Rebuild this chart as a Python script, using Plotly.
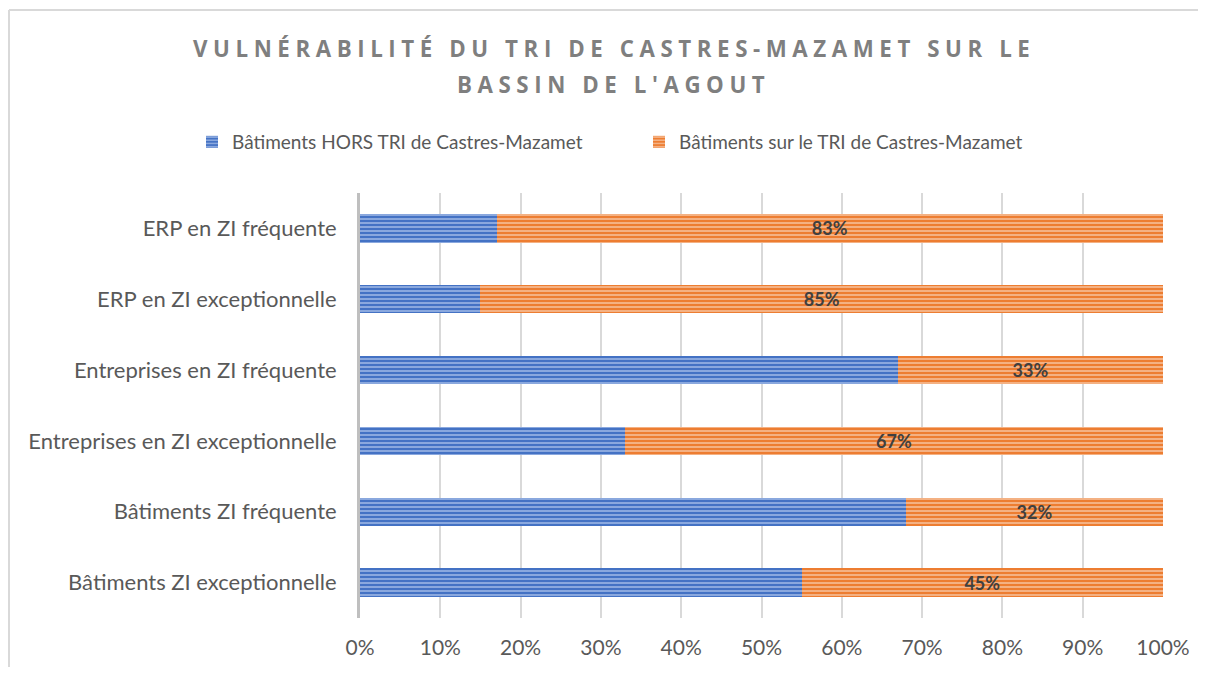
import plotly.graph_objects as go

categories = [
    "Bâtiments ZI exceptionnelle",
    "Bâtiments ZI fréquente",
    "Entreprises en ZI exceptionnelle",
    "Entreprises en ZI fréquente",
    "ERP en ZI exceptionnelle",
    "ERP en ZI fréquente",
]
hors_tri = [55, 68, 33, 67, 15, 17]
sur_tri = [45, 32, 67, 33, 85, 83]
series_names = ["Bâtiments HORS TRI de Castres-Mazamet", "Bâtiments sur le TRI de Castres-Mazamet"]
x_ticks = [0, 10, 20, 30, 40, 50, 60, 70, 80, 90, 100]
x_ticklabels = [f"{v}%" for v in x_ticks]

title_lines = ["VULNÉRABILITÉ DU TRI DE CASTRES-MAZAMET SUR LE", "BASSIN DE L'AGOUT"]


def spaced(s):
    # emulate the wide letter spacing of the original title
    return "\u2005".join(list(s))


# page body has an 8px margin; figure sized to fit inside the window
W, H = 1190, 659
L, R, T, B = 352, 35, 185, 49
pw, ph = W - L - R, H - T - B


def px_x(x):
    return (x - L) / pw


def px_y(y):
    return (H - B - y) / ph


fig = go.Figure()
fig.add_trace(go.Bar(
    y=categories, x=hors_tri, orientation="h", name=series_names[0],
    marker=dict(color="#4472C4", line=dict(width=0),
                pattern=dict(shape="-", size=4, solidity=0.35, fgcolor="#A9C0EA",
                             bgcolor="#4472C4", fillmode="replace")),
))
fig.add_trace(go.Bar(
    y=categories, x=sur_tri, orientation="h", name=series_names[1],
    marker=dict(color="#ED7D31", line=dict(width=0),
                pattern=dict(shape="-", size=4, solidity=0.35, fgcolor="#F8C8A6",
                             bgcolor="#ED7D31", fillmode="replace")),
    text=[f"{v}%" for v in sur_tri], texttemplate="<b>%{text}</b>",
    textposition="inside", insidetextanchor="middle",
    textfont=dict(family="Lato", size=18, color="#404040"),
))

annotations = []
for line, ypx in zip(title_lines, [40, 77]):
    annotations.append(dict(
        text="<b>" + spaced(line) + "</b>", xref="paper", yref="paper",
        x=px_x(603), y=px_y(ypx), xanchor="center", yanchor="middle",
        showarrow=False, font=dict(family="Open Sans", size=22.3, color="#7F7F7F"),
    ))

fig.update_layout(
    width=W, height=H,
    barmode="stack", bargap=0.6,
    margin=dict(l=L, r=R, t=T, b=B, autoexpand=False),
    paper_bgcolor="white", plot_bgcolor="white",
    font=dict(family="Lato", color="#595959"),
    annotations=annotations,
    legend=dict(orientation="h", x=px_x(184), xanchor="left",
                y=px_y(134), yanchor="middle",
                font=dict(family="Lato", size=19, color="#595959"),
                traceorder="normal", entrywidth=402, entrywidthmode="pixels"),
    xaxis=dict(range=[0, 100], tickvals=x_ticks, ticktext=x_ticklabels,
               showgrid=True, gridcolor="#D9D9D9", gridwidth=2, zeroline=False,
               showline=False, ticks="outside", ticklen=11, tickcolor="rgba(0,0,0,0)",
               tickfont=dict(family="Lato", size=21, color="#595959"),
               fixedrange=True, automargin=False),
    yaxis=dict(showline=True, linecolor="#BFBFBF", linewidth=3,
               showgrid=False, ticks="outside", ticklen=16, tickcolor="rgba(0,0,0,0)",
               tickfont=dict(family="Lato", size=22, color="#595959"), automargin=False),
    showlegend=True,
)

# chart frame
x_frame = px_x(1)
y_frame = px_y(2)
fig.add_shape(type="line", xref="paper", yref="paper", x0=x_frame, x1=x_frame,
              y0=px_y(H + 5), y1=y_frame, line=dict(color="#D9D9D9", width=2))
fig.add_shape(type="line", xref="paper", yref="paper", x0=x_frame, x1=px_x(W + 5),
              y0=y_frame, y1=y_frame, line=dict(color="#D9D9D9", width=2))

fig.write_html("out.html")
